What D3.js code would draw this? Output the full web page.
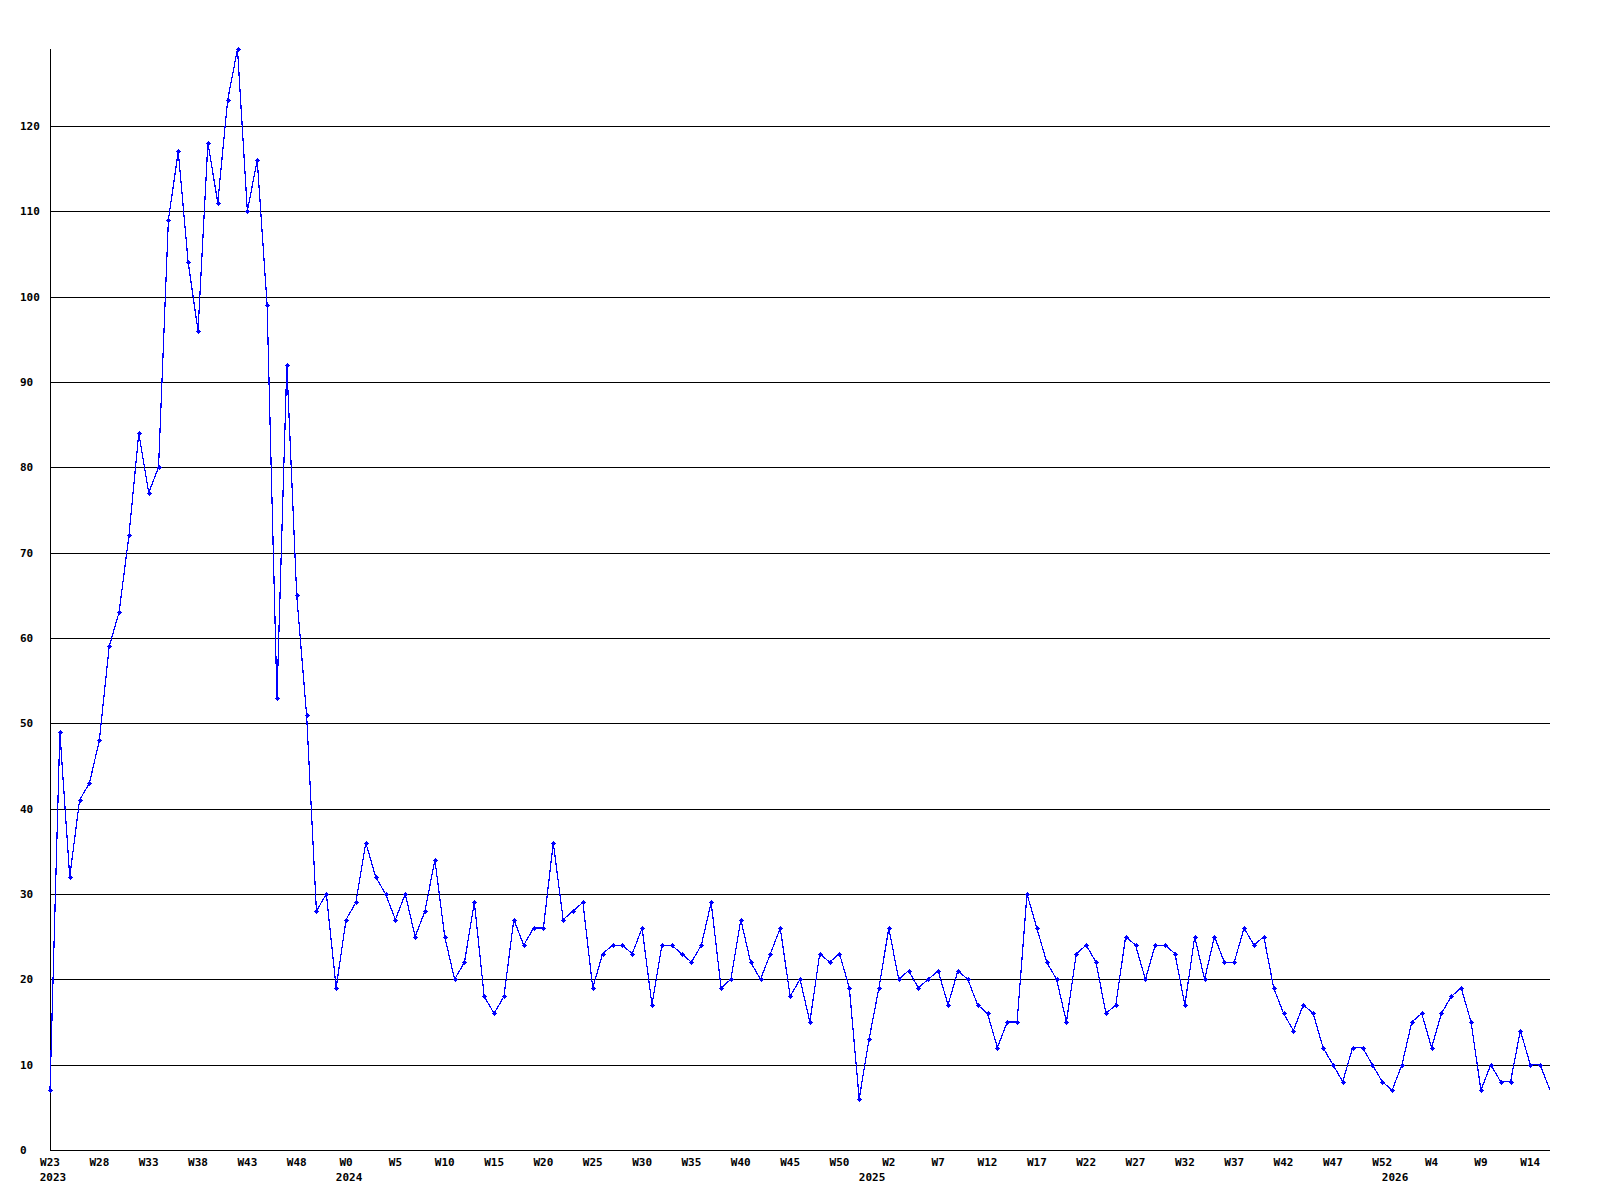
<!DOCTYPE html>
<html>
<head>
<meta charset="utf-8">
<script src="https://cdn.jsdelivr.net/npm/d3@7"></script>
<style>
  html, body { margin: 0; padding: 0; background: #ffffff; }
  svg { display: block; }
  text { font-family: "DejaVu Sans Mono", "Liberation Mono", monospace; font-weight: bold; font-size: 11px; fill: #000; }
</style>
</head>
<body>
<svg id="chart" width="1600" height="1200"></svg>
<script>
// Weekly categories (year-week)
const categories = [
  "2023-W23","2023-W24","2023-W25","2023-W26","2023-W27","2023-W28","2023-W29","2023-W30","2023-W31","2023-W32",
  "2023-W33","2023-W34","2023-W35","2023-W36","2023-W37","2023-W38","2023-W39","2023-W40","2023-W41","2023-W42",
  "2023-W43","2023-W44","2023-W45","2023-W46","2023-W47","2023-W48","2023-W49","2023-W50","2023-W51","2023-W52",
  "2024-W0","2024-W1","2024-W2","2024-W3","2024-W4","2024-W5","2024-W6","2024-W7","2024-W8","2024-W9",
  "2024-W10","2024-W11","2024-W12","2024-W13","2024-W14","2024-W15","2024-W16","2024-W17","2024-W18","2024-W19",
  "2024-W20","2024-W21","2024-W22","2024-W23","2024-W24","2024-W25","2024-W26","2024-W27","2024-W28","2024-W29",
  "2024-W30","2024-W31","2024-W32","2024-W33","2024-W34","2024-W35","2024-W36","2024-W37","2024-W38","2024-W39",
  "2024-W40","2024-W41","2024-W42","2024-W43","2024-W44","2024-W45","2024-W46","2024-W47","2024-W48","2024-W49",
  "2024-W50","2024-W51","2024-W52",
  "2025-W0","2025-W1","2025-W2","2025-W3","2025-W4","2025-W5","2025-W6","2025-W7","2025-W8","2025-W9",
  "2025-W10","2025-W11","2025-W12","2025-W13","2025-W14","2025-W15","2025-W16","2025-W17","2025-W18","2025-W19",
  "2025-W20","2025-W21","2025-W22","2025-W23","2025-W24","2025-W25","2025-W26","2025-W27","2025-W28","2025-W29",
  "2025-W30","2025-W31","2025-W32","2025-W33","2025-W34","2025-W35","2025-W36","2025-W37","2025-W38","2025-W39",
  "2025-W40","2025-W41","2025-W42","2025-W43","2025-W44","2025-W45","2025-W46","2025-W47","2025-W48","2025-W49",
  "2025-W50","2025-W51","2025-W52",
  "2026-W0","2026-W1","2026-W2","2026-W3","2026-W4","2026-W5","2026-W6","2026-W7","2026-W8","2026-W9",
  "2026-W10","2026-W11","2026-W12","2026-W13","2026-W14","2026-W15","2026-W16"
];

// Weekly counts
const values = [
  7, 49, 32, 41, 43, 48, 59, 63, 72, 84,
  77, 80, 109, 117, 104, 96, 118, 111, 123, 129,
  110, 116, 99, 53, 92, 65, 51, 28, 30, 19,
  27, 29, 36, 32, 30, 27, 30, 25, 28, 34,
  25, 20, 22, 29, 18, 16, 18, 27, 24, 26,
  26, 36, 27, 28, 29, 19, 23, 24, 24, 23,
  26, 17, 24, 24, 23, 22, 24, 29, 19, 20,
  27, 22, 20, 23, 26, 18, 20, 15, 23, 22,
  23, 19, 6, 13, 19, 26, 20, 21, 19, 20,
  21, 17, 21, 20, 17, 16, 12, 15, 15, 30,
  26, 22, 20, 15, 23, 24, 22, 16, 17, 25,
  24, 20, 24, 24, 23, 17, 25, 20, 25, 22,
  22, 26, 24, 25, 19, 16, 14, 17, 16, 12,
  10, 8, 12, 12, 10, 8, 7, 10, 15, 16,
  12, 16, 18, 19, 15, 7, 10, 8, 8, 14,
  10, 10, 7
];

// Y tick values
const yTicks = [0, 10, 20, 30, 40, 50, 60, 70, 80, 90, 100, 110, 120];
const labelEvery = 5;   // a week label every 5th week
const partialLast = true; // last (current) week drawn without a marker

const svg = d3.select("#chart");
svg.append("rect").attr("width", 1600).attr("height", 1200).attr("fill", "#fff");

const x = d3.scalePoint().domain(categories).range([50, 1550]);
const y = d3.scaleLinear().domain([0, d3.max(values)]).range([1150, 49]);

// Horizontal grid lines
svg.append("g").selectAll("line")
  .data(yTicks.filter(d => d > 0))
  .join("line")
  .attr("x1", 50).attr("x2", 1550)
  .attr("y1", d => Math.round(y(d)) + 0.5).attr("y2", d => Math.round(y(d)) + 0.5)
  .attr("stroke", "#000").attr("stroke-width", 1)
  .attr("shape-rendering", "crispEdges");

// Y labels (left aligned)
svg.append("g").selectAll("text")
  .data(yTicks)
  .join("text")
  .attr("x", 20)
  .attr("y", d => Math.round(y(d)))
  .attr("dy", "0.36em")
  .text(d => d);

// Axes lines
svg.append("line")
  .attr("x1", 50.5).attr("x2", 50.5).attr("y1", 49).attr("y2", Math.round(y(0)) + 0.5)
  .attr("stroke", "#000").attr("shape-rendering", "crispEdges");
svg.append("line")
  .attr("x1", 50).attr("x2", 1550).attr("y1", Math.round(y(0)) + 0.5).attr("y2", Math.round(y(0)) + 0.5)
  .attr("stroke", "#000").attr("shape-rendering", "crispEdges");

// Week labels
const weekOf = c => c.split("-")[1];
const yearOf = c => c.split("-")[0];
svg.append("g").selectAll("text")
  .data(categories.filter((c, i) => i % labelEvery === 0))
  .join("text")
  .attr("x", c => x(c))
  .attr("y", 1162)
  .attr("dy", "0.36em")
  .attr("text-anchor", "middle")
  .text(c => weekOf(c));

// Year labels at first week of each year
svg.append("g").selectAll("text")
  .data(categories.filter((c, i) => i === 0 || yearOf(c) !== yearOf(categories[i - 1])))
  .join("text")
  .attr("x", c => x(c) + 3)
  .attr("y", 1177)
  .attr("dy", "0.36em")
  .attr("text-anchor", "middle")
  .text(c => yearOf(c));

// Data line
const pts = categories.map((c, i) => ({ c, v: values[i] }));
svg.append("path")
  .datum(pts)
  .attr("fill", "none")
  .attr("stroke", "#0000ff")
  .attr("stroke-width", 1.2)
  .attr("shape-rendering", "crispEdges")
  .attr("d", d3.line().x(d => x(d.c)).y(d => y(d.v)));

// Markers: small plus-diamond shape
const markerPts = partialLast ? pts.slice(0, -1) : pts;
const mk = svg.append("g").attr("shape-rendering", "crispEdges").attr("fill", "#0000ff");
const cx = d => Math.round(x(d.c)), cy = d => Math.round(y(d.v));
mk.selectAll("rect.h").data(markerPts).join("rect").attr("class", "h")
  .attr("x", d => cx(d) - 2).attr("y", d => cy(d)).attr("width", 5).attr("height", 1);
mk.selectAll("rect.v").data(markerPts).join("rect").attr("class", "v")
  .attr("x", d => cx(d)).attr("y", d => cy(d) - 2).attr("width", 1).attr("height", 5);
mk.selectAll("rect.c").data(markerPts).join("rect").attr("class", "c")
  .attr("x", d => cx(d) - 1).attr("y", d => cy(d) - 1).attr("width", 3).attr("height", 3);
</script>
</body>
</html>
